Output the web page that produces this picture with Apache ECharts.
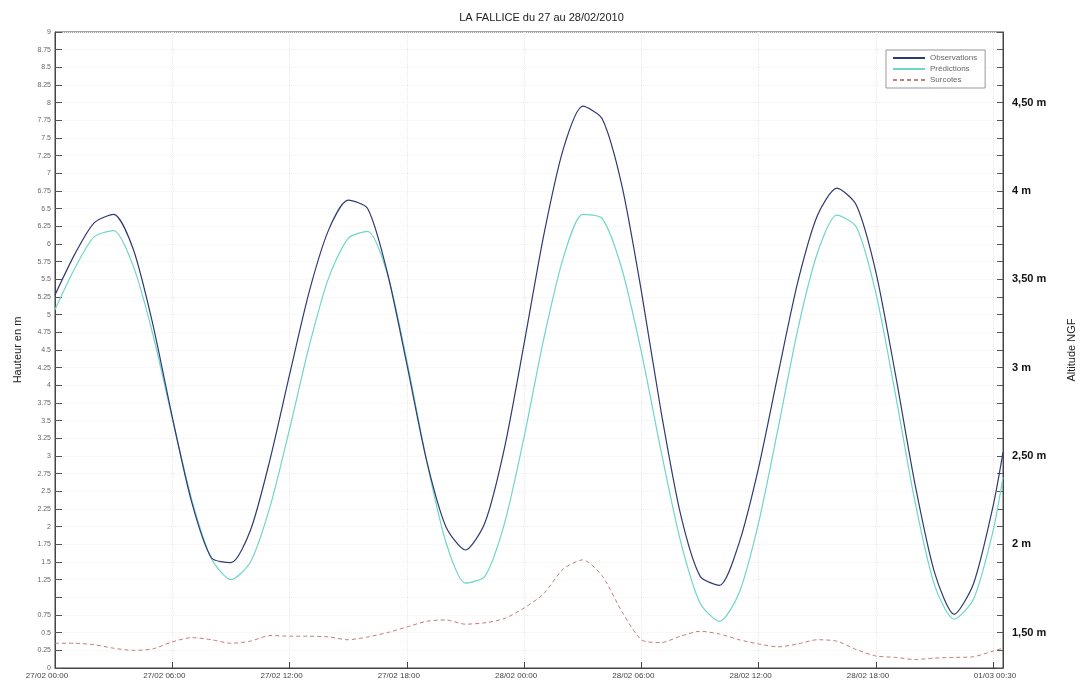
<!DOCTYPE html>
<html>
<head>
<meta charset="utf-8">
<script src="https://cdn.jsdelivr.net/npm/echarts@6/dist/echarts.min.js"></script>
<style>
html,body{margin:0;padding:0;background:#fff;}
#chart{width:1083px;height:683px;}
</style>
</head>
<body>
<div id="chart"></div>
<script>
// time in hours since 27/02/2010 00:00
const hours = [0,1,2,3,4,5,6,7,8,9,10,11,12,13,14,15,16,17,18,19,20,21,22,23,24,25,26,27,28,29,30,31,32,33,34,35,36,37,38,39,40,41,42,43,44,45,46,47,48,48.5];
const observations = [5.28,5.85,6.30,6.42,5.93,4.87,3.55,2.34,1.56,1.49,1.95,2.95,4.15,5.32,6.20,6.62,6.50,5.60,4.30,2.95,2.00,1.67,2.06,3.12,4.59,6.12,7.34,7.95,7.77,6.83,5.33,3.64,2.18,1.30,1.17,1.77,2.84,4.17,5.46,6.40,6.79,6.55,5.60,4.15,2.60,1.35,0.76,1.20,2.30,3.05];
const predictions = [5.07,5.65,6.10,6.19,5.69,4.73,3.53,2.38,1.55,1.25,1.50,2.28,3.38,4.55,5.52,6.08,6.18,5.58,4.35,2.95,1.78,1.20,1.30,2.05,3.27,4.65,5.80,6.42,6.36,5.65,4.47,3.08,1.80,0.92,0.66,1.06,2.06,3.40,4.79,5.87,6.41,6.24,5.30,3.87,2.35,1.17,0.69,0.98,1.95,2.70];
const surcotes = [0.35,0.35,0.33,0.28,0.25,0.27,0.37,0.43,0.40,0.35,0.38,0.46,0.45,0.45,0.44,0.40,0.44,0.50,0.58,0.66,0.68,0.62,0.64,0.70,0.85,1.05,1.40,1.53,1.30,0.80,0.40,0.36,0.45,0.52,0.48,0.40,0.34,0.30,0.34,0.40,0.38,0.26,0.17,0.15,0.12,0.14,0.15,0.16,0.24,0.28];

const seriesNames = ['Observations','Prédictions','Surcotes'];
const xTickValues = [0,6,12,18,24,30,36,42,48.5];
const xTickLabels = ['27/02 00:00','27/02 06:00','27/02 12:00','27/02 18:00','28/02 00:00','28/02 06:00','28/02 12:00','28/02 18:00','01/03 00:30'];
const leftTickLabels = ['0','0.25','0.5','0.75','','1.25','1.5','1.75','2','2.25','2.5','2.75','3','3.25','3.5','3.75','4','4.25','4.5','4.75','5','5.25','5.5','5.75','6','6.25','6.5','6.75','7','7.25','7.5','7.75','8','8.25','8.5','8.75','9'];
const rightTickValues = [1.5,2,2.5,3,3.5,4,4.5];
const rightTickLabels = ['1,50 m','2 m','2,50 m','3 m','3,50 m','4 m','4,50 m'];
const titleText = 'LA FALLICE du 27 au 28/02/2010';

function pairs(ys){ return hours.map((h,i)=>[h, ys[i]]); }
function findLabel(vals, labels, v){
  for (let i=0;i<vals.length;i++){ if (Math.abs(vals[i]-v) < 1e-6) return labels[i]; }
  return '';
}

const chart = echarts.init(document.getElementById('chart'), null, {renderer:'canvas'});
const font = 'Liberation Sans, Arial, sans-serif';
chart.setOption({
  animation:false,
  backgroundColor:'#ffffff',
  title:{text:titleText, left:'center', top:7, textStyle:{fontSize:11, fontWeight:'normal', color:'#222', fontFamily:font}},
  grid:{left:55, right:80, top:32, bottom:15, show:true, borderColor:'#444', borderWidth:1, backgroundColor:'transparent', containLabel:false, outerBoundsMode:'none'},
  legend:{
    data:seriesNames, orient:'vertical', left:886, top:50,
    itemWidth:32, itemHeight:8, itemGap:3, padding:[4,8,4,6],
    borderColor:'#999', borderWidth:1, backgroundColor:'#fff',
    itemStyle:{color:'rgba(0,0,0,0)', borderWidth:0, opacity:0},
    textStyle:{fontSize:8, color:'#666', fontFamily:font}
  },
  xAxis:{
    type:'value', min:0, max:48.5, interval:6,
    axisLine:{show:true, lineStyle:{color:'#444'}},
    axisTick:{show:true, inside:true, length:6, lineStyle:{color:'#444'}},
    axisLabel:{fontSize:8, color:'#444', margin:4, fontFamily:font, padding:[0,16,0,0],
      showMinLabel:true, showMaxLabel:true,
      formatter:(v)=>findLabel(xTickValues, xTickLabels, v)},
    splitLine:{show:true, lineStyle:{color:'#e8e8e8', type:'dotted'}}
  },
  yAxis:[
    {
      type:'value', min:0, max:9, interval:0.25, position:'left',
      name:'Hauteur en m', nameLocation:'middle', nameGap:32, nameRotate:90,
      nameTextStyle:{fontSize:11, color:'#222', fontFamily:font},
      axisLine:{show:true, lineStyle:{color:'#444'}},
      axisTick:{show:true, inside:true, length:7, lineStyle:{color:'#555'}},
      axisLabel:{fontSize:7, color:'#666', margin:4, fontFamily:font,
        formatter:(v)=>leftTickLabels[Math.round(v/0.25)] || ''},
      splitLine:{show:true, lineStyle:{color:'#f1f1f1', type:'dotted'}}
    },
    {
      type:'value', min:1.3, max:4.9, interval:0.1, position:'right',
      name:'Altitude NGF', nameLocation:'middle', nameGap:63, nameRotate:90,
      nameTextStyle:{fontSize:11, color:'#222', fontFamily:font},
      axisLine:{show:true, lineStyle:{color:'#444'}},
      axisTick:{show:true, inside:true, length:6, lineStyle:{color:'#555'}},
      axisLabel:{fontSize:11, color:'#111', fontWeight:'bold', margin:9, fontFamily:font,
        formatter:(v)=>findLabel(rightTickValues, rightTickLabels, v)},
      splitLine:{show:false}
    }
  ],
  series:[
    {name:seriesNames[0], type:'line', data:pairs(observations), symbol:'none', smooth:0.25, z:4,
     lineStyle:{color:'#2f3a72', width:1.2}, itemStyle:{color:'#2f3a72'}},
    {name:seriesNames[1], type:'line', data:pairs(predictions), symbol:'none', smooth:0.25, z:3,
     lineStyle:{color:'#6fd6c6', width:1.2}, itemStyle:{color:'#6fd6c6'}},
    {name:seriesNames[2], type:'line', data:pairs(surcotes), symbol:'none', smooth:0.25, z:3,
     lineStyle:{color:'#c77b7b', width:1, type:[4,3]}, itemStyle:{color:'#c77b7b'}}
  ]
});
</script>
</body>
</html>
